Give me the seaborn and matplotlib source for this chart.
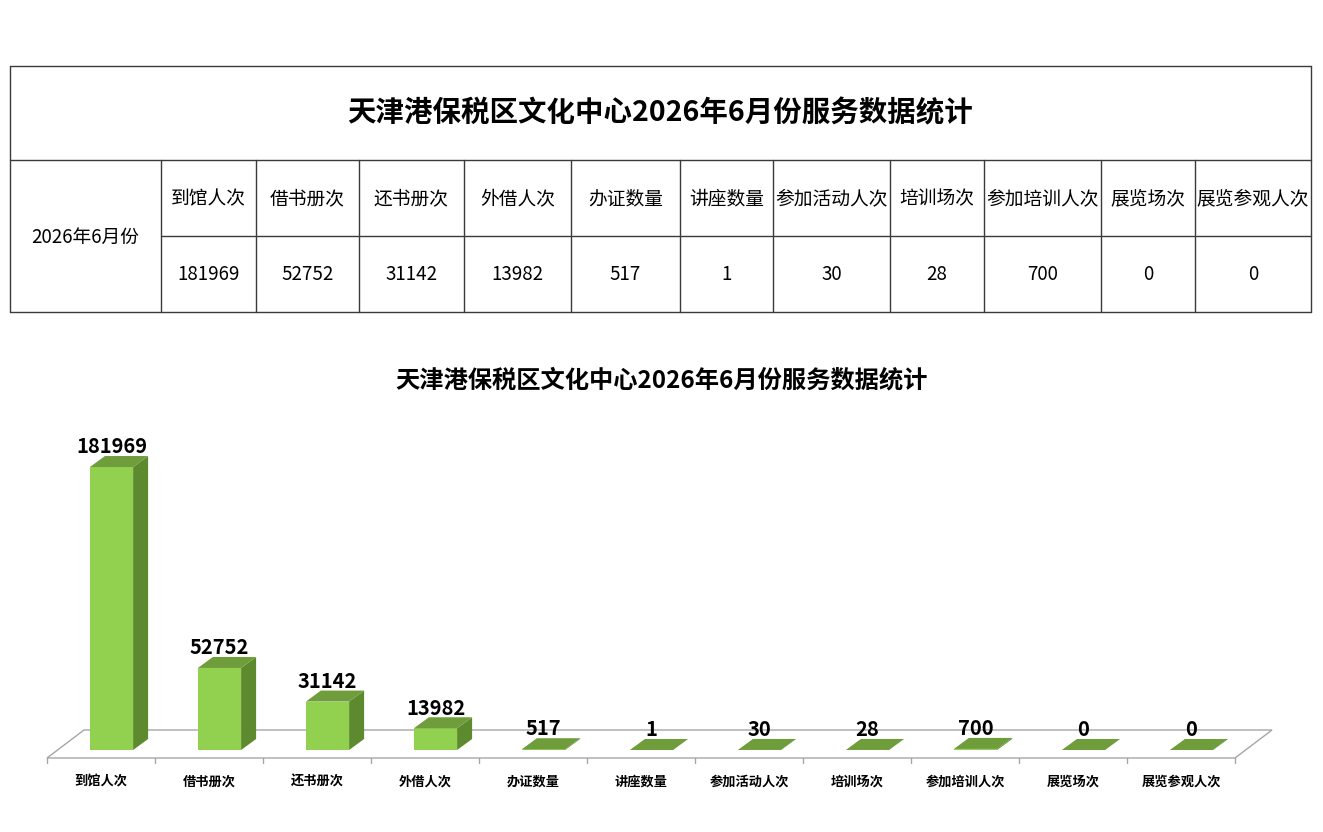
"""Monthly service statistics: summary table plus pseudo-3D bar chart."""

import matplotlib
matplotlib.use("Agg")
import pandas as pd
import matplotlib.pyplot as plt
import seaborn as sns
from matplotlib.patches import Polygon
from matplotlib.transforms import ScaledTranslation

# ---- data ----
categories = ["到馆人次", "借书册次", "还书册次", "外借人次", "办证数量", "讲座数量",
              "参加活动人次", "培训场次", "参加培训人次", "展览场次", "展览参观人次"]
values = [181969, 52752, 31142, 13982, 517, 1, 30, 28, 700, 0, 0]
period = "2026年6月份"
title = "天津港保税区文化中心2026年6月份服务数据统计"

# ---- layout (pixels) ----
W, H = 1323, 832
col_edges = [10, 161, 256, 359, 464, 571, 680, 773, 890, 984, 1101, 1195, 1311]
row_edges = [66, 160, 236, 312]

FRONT = "#92D050"
SIDE = "#5D8A2F"
TOP = "#6F9D3B"
FLOOR = "#A6A6A6"


def draw_table(fig):
    tab = fig.add_axes([0, 0, 1, 1])
    tab.set_xlim(0, W)
    tab.set_ylim(H, 0)
    tab.axis("off")
    lc = dict(color="#3a3a3a", lw=1.0)
    x0, x1 = col_edges[0], col_edges[-1]
    for y in (row_edges[0], row_edges[1], row_edges[3]):
        tab.plot([x0, x1], [y, y], **lc)
    tab.plot([col_edges[1], x1], [row_edges[2]] * 2, **lc)
    tab.plot([x0, x0], [row_edges[0], row_edges[3]], **lc)
    tab.plot([x1, x1], [row_edges[0], row_edges[3]], **lc)
    for x in col_edges[1:-1]:
        tab.plot([x, x], [row_edges[1], row_edges[3]], **lc)

    tab.text((x0 + x1) / 2, (row_edges[0] + row_edges[1]) / 2, title,
             ha="center", va="center", fontsize=20.5, fontweight="bold")
    tab.text((col_edges[0] + col_edges[1]) / 2, (row_edges[1] + row_edges[3]) / 2 + 1, period,
             ha="center", va="center", fontsize=13.5)
    for i, (cat, val) in enumerate(zip(categories, values)):
        cx = (col_edges[i + 1] + col_edges[i + 2]) / 2
        tab.text(cx, (row_edges[1] + row_edges[2]) / 2 + 1, cat,
                 ha="center", va="center", fontsize=13.5)
        tab.text(cx, (row_edges[2] + row_edges[3]) / 2 + 1, str(val),
                 ha="center", va="center", fontsize=13.5)


def draw_chart(fig):
    # axes: y=0 at pixel row 750, category centres at 111.5 + k*108
    left, base, width, height = 57.5, 750, 1188, 311
    ax = fig.add_axes([left / W, (H - base) / H, width / W, height / H])
    df = pd.DataFrame({"cat": categories, "val": values})
    sns.barplot(data=df, x="cat", y="val", color=FRONT, saturation=1,
                width=0.4, linewidth=0, ax=ax, zorder=3)
    ax.set_xlim(-0.5, len(categories) - 0.5)
    ax.set_ylim(0, 200000)
    for s in ax.spines.values():
        s.set_visible(False)
    ax.set_yticks([])
    ax.set_xlabel("")
    ax.set_ylabel("")

    px_x = width / len(categories)          # pixels per category
    px_y = height / 200000                  # pixels per unit
    dx, dy = 15 / px_x, 11 / px_y           # bar depth
    fdx, fdy = -10.5 / px_x, -8 / px_y      # floor front edge
    bdx, bdy = 26.5 / px_x, 20 / px_y       # floor back edge

    n = len(categories)
    floor = Polygon([(-0.5 + fdx, fdy), (n - 0.5 + fdx, fdy),
                     (n - 0.5 + bdx, bdy), (-0.5 + bdx, bdy)],
                    closed=True, fill=False, edgecolor=FLOOR, lw=1.0,
                    zorder=1, clip_on=False)
    ax.add_patch(floor)
    for k in range(n + 1):
        ax.plot([k - 0.5 + fdx] * 2, [fdy, fdy - 5 / px_y], color=FLOOR,
                lw=1.0, clip_on=False, zorder=1)

    for p, v in zip(ax.patches, values):
        x0, w, h = p.get_x(), p.get_width(), p.get_height()
        side = Polygon([(x0 + w, 0), (x0 + w + dx, dy), (x0 + w + dx, h + dy), (x0 + w, h)],
                       closed=True, facecolor=SIDE, edgecolor="none", zorder=3, clip_on=False)
        top = Polygon([(x0, h), (x0 + w, h), (x0 + w + dx, h + dy), (x0 + dx, h + dy)],
                      closed=True, facecolor=TOP, edgecolor="none", zorder=4, clip_on=False)
        ax.add_patch(side)
        ax.add_patch(top)
        ax.annotate(str(v), (x0 + w / 2, h), xytext=(0, 7), textcoords="offset points",
                    ha="center", va="bottom", fontsize=14.5, fontweight="bold",
                    color="black", zorder=5, annotation_clip=False)

    ax.set_xticks(range(n), categories)
    ax.tick_params(axis="x", length=0, pad=17.5, labelsize=9.5, labelcolor="black")
    shift = ScaledTranslation(-10.5 / fig.dpi, 0, fig.dpi_scale_trans)
    for lab in ax.get_xticklabels():
        lab.set_fontweight("bold")
        lab.set_transform(lab.get_transform() + shift)

    fig.text(0.5, 1 - 380 / H, title, ha="center", va="center",
             fontsize=17.5, fontweight="bold")


if __name__ == "__main__":
    sns.set_theme(style="white")
    plt.rcParams["font.family"] = ["Noto Sans CJK SC", "DejaVu Sans"]
    plt.rcParams["text.color"] = "black"
    fig = plt.figure(figsize=(W / 100, H / 100), dpi=100)
    draw_table(fig)
    draw_chart(fig)
    fig.savefig("out.png", dpi=100, facecolor="white")
    plt.close(fig)
